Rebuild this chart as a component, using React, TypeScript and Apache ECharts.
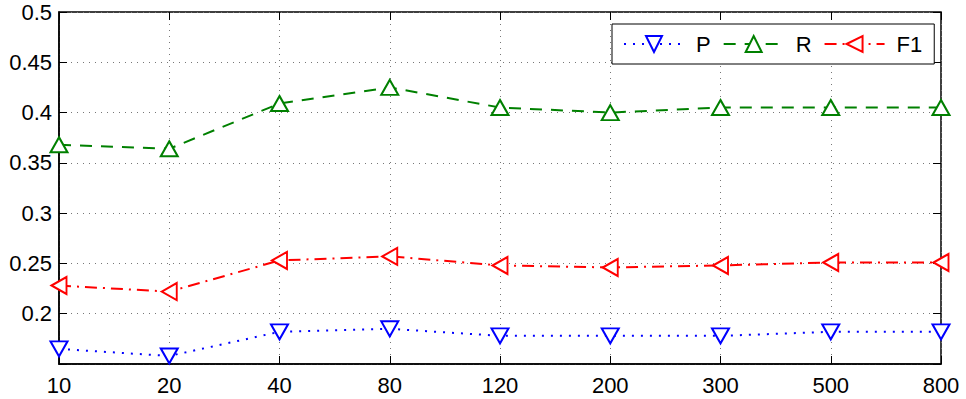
import React, { useEffect, useRef } from "react";
import * as echarts from "echarts";

const categories = ["10", "20", "40", "80", "120", "200", "300", "500", "800"];
const pValues = [0.165, 0.158, 0.182, 0.185, 0.178, 0.178, 0.178, 0.182, 0.182];
const rValues = [0.368, 0.364, 0.409, 0.425, 0.405, 0.4, 0.405, 0.405, 0.405];
const f1Values = [0.228, 0.222, 0.253, 0.257, 0.248, 0.246, 0.248, 0.251, 0.251];

const FONT = "Liberation Sans, Arial, Helvetica, sans-serif";

export default function App() {
  const ref = useRef<HTMLDivElement>(null);
  useEffect(() => {
    if (!ref.current) return;
    const chart = echarts.init(ref.current, null, { renderer: "svg" });
    const tick = { show: true, inside: true, length: 8, lineStyle: { color: "#000", width: 1 } };
    const split = { show: true, lineStyle: { color: "#777", type: [1, 5], width: 1 } };
    chart.setOption({
      animation: false,
      backgroundColor: "#fff",
      textStyle: { fontFamily: FONT },
      grid: { left: 59, right: 25, top: 12, bottom: 35, show: true, borderColor: "#000", borderWidth: 1.5, backgroundColor: "transparent" },
      legend: {
        left: 612,
        top: 24,
        orient: "horizontal",
        backgroundColor: "#fff",
        borderColor: "#000",
        borderWidth: 1,
        borderRadius: 0,
        padding: [9, 12, 9, 11],
        itemWidth: 60,
        itemHeight: 20,
        itemGap: 12,
        textStyle: { fontSize: 22, color: "#000", fontFamily: FONT, padding: [0, 0, 0, 7] },
        data: ["P", "R", "F1"],
      },
      xAxis: [
        {
          type: "category",
          data: categories,
          boundaryGap: false,
          axisLine: { show: true, lineStyle: { color: "#000", width: 1.5 } },
          axisTick: { ...tick, alignWithLabel: true },
          axisLabel: { fontSize: 22, color: "#000", margin: 10, fontFamily: FONT },
          splitLine: split,
        },
        {
          type: "category",
          data: categories,
          boundaryGap: false,
          position: "top",
          axisLine: { show: false },
          axisTick: tick,
          axisLabel: { show: false },
          splitLine: { show: false },
        },
      ],
      yAxis: [
        {
          type: "value",
          min: 0.15,
          max: 0.5,
          interval: 0.05,
          axisLine: { show: true, lineStyle: { color: "#000", width: 1.5 } },
          axisTick: tick,
          axisLabel: {
            fontSize: 22,
            color: "#000",
            margin: 7,
            fontFamily: FONT,
            formatter: (v: number) => (v < 0.17 ? "" : String(+v.toFixed(2))),
          },
          splitLine: split,
        },
        {
          type: "value",
          min: 0.15,
          max: 0.5,
          interval: 0.05,
          position: "right",
          axisLine: { show: false },
          axisTick: tick,
          axisLabel: { show: false },
          splitLine: { show: false },
        },
      ],
      series: [
        {
          name: "P",
          type: "line",
          data: pValues,
          symbol: "emptyTriangle",
          symbolRotate: 180,
          symbolSize: [17, 15],
          color: "#0000ff",
          lineStyle: { color: "#0000ff", width: 2, type: [2, 7] },
          itemStyle: { color: "#0000ff", borderWidth: 2 },
          z: 3,
        },
        {
          name: "R",
          type: "line",
          data: rValues,
          symbol: "emptyTriangle",
          symbolSize: [17, 15],
          color: "#008000",
          lineStyle: { color: "#008000", width: 2, type: [12, 9] },
          itemStyle: { color: "#008000", borderWidth: 2 },
          z: 3,
        },
        {
          name: "F1",
          type: "line",
          data: f1Values,
          symbol: "emptyTriangle",
          symbolRotate: 90,
          symbolSize: [17, 15],
          color: "#ff0000",
          lineStyle: { color: "#ff0000", width: 2, type: [12, 6, 2, 6] },
          itemStyle: { color: "#ff0000", borderWidth: 2 },
          z: 3,
        },
      ],
    });
    return () => chart.dispose();
  }, []);
  return <div ref={ref} style={{ width: 966, height: 399, position: "absolute", left: 0, top: 0 }} />;
}
